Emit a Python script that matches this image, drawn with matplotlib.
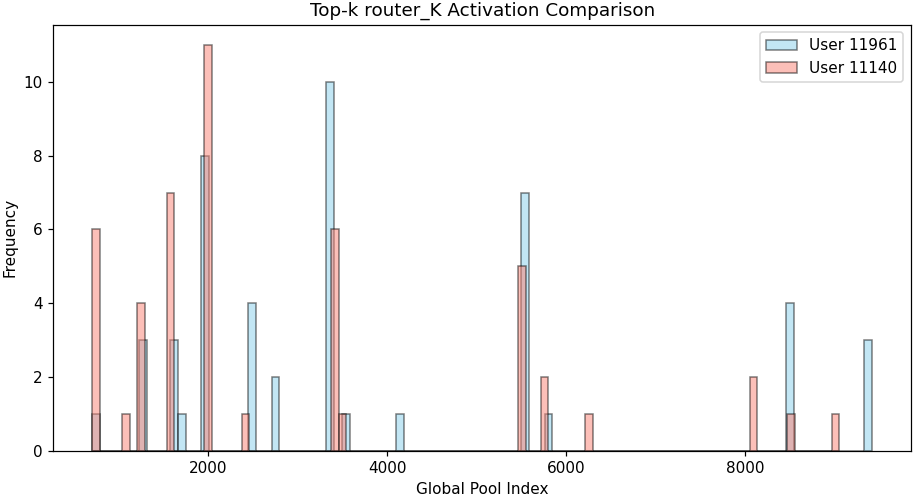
import numpy as np
import matplotlib
matplotlib.use("Agg")
import matplotlib.pyplot as plt

# Data (100-bin histograms)
n_bins = 100

user_a_label = "User 11961"
user_a_min, user_a_max = 706, 9413
user_a_bins = [0, 6, 10, 11, 14, 20, 23, 30, 32, 39, 55, 58, 89, 99]
user_a_counts = [1, 3, 3, 1, 8, 4, 2, 10, 1, 1, 7, 1, 4, 3]

user_b_label = "User 11140"
user_b_min, user_b_max = 706, 9049
user_b_bins = [0, 4, 6, 10, 15, 20, 32, 33, 57, 60, 66, 88, 93, 99]
user_b_counts = [6, 1, 4, 7, 11, 1, 6, 1, 5, 2, 1, 2, 1, 1]

title = "Top-k router_K Activation Comparison"
xlabel = "Global Pool Index"
ylabel = "Frequency"

DPI = 110
fig = plt.figure(figsize=(914 / DPI, 497 / DPI), dpi=DPI)
ax = fig.add_axes([0.0583, 0.0932, 0.9384, 0.8571])


def draw(vmin, vmax, bins, counts, color, label):
    edges = np.linspace(vmin, vmax, n_bins + 1)
    centers = (edges[:-1] + edges[1:]) / 2
    weights = np.zeros(n_bins)
    weights[np.array(bins)] = counts
    ax.hist(centers, bins=edges, weights=weights, alpha=0.5, color=color,
            edgecolor="black", label=label)


draw(user_a_min, user_a_max, user_a_bins, user_a_counts, "skyblue", user_a_label)
draw(user_b_min, user_b_max, user_b_bins, user_b_counts, "salmon", user_b_label)

ax.set_title(title)
ax.set_xlabel(xlabel)
ax.set_ylabel(ylabel)
ax.legend(loc="upper right")

fig.savefig("out.png", dpi=DPI)
